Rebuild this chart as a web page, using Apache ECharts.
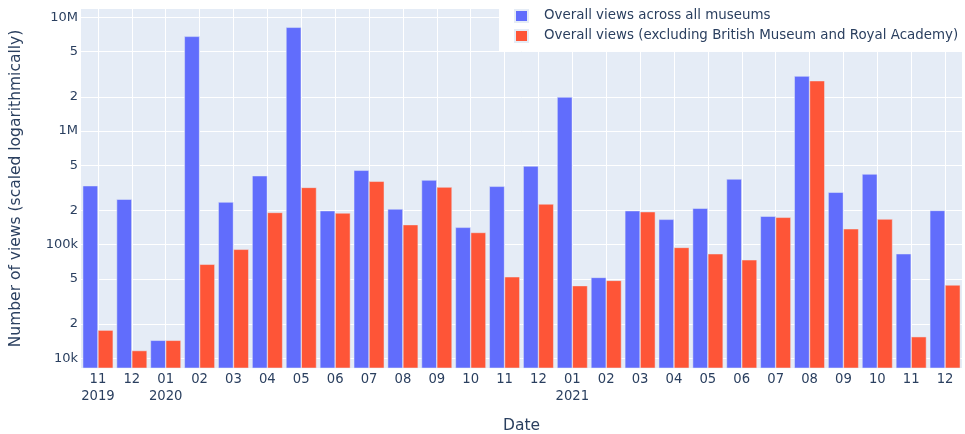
<!DOCTYPE html>
<html>
<head>
<meta charset="utf-8">
<script src="https://cdn.jsdelivr.net/npm/echarts@6/dist/echarts.min.js"></script>
<style>
  html, body { margin: 0; padding: 0; background: #ffffff; }
  #chart { width: 965px; height: 434px; }
</style>
</head>
<body>
<div id="chart"></div>
<script>
// Monthly museum page views, Nov 2019 - Dec 2021
const months = [
  '2019-11', '2019-12', '2020-01', '2020-02', '2020-03', '2020-04', '2020-05',
  '2020-06', '2020-07', '2020-08', '2020-09', '2020-10', '2020-11', '2020-12',
  '2021-01', '2021-02', '2021-03', '2021-04', '2021-05', '2021-06', '2021-07',
  '2021-08', '2021-09', '2021-10', '2021-11', '2021-12'
];

const allMuseums = [
  330000, 251000, 14400, 6800000, 237000, 404000, 8170000,
  199000, 451000, 206000, 370000, 142000, 326000, 492000,
  1990000, 51500, 199000, 167000, 209000, 378000, 178000,
  3040000, 289000, 418000, 83200, 200000
];

const excludingBmRa = [
  17700, 11700, 14400, 67200, 91000, 192000, 319000,
  190000, 361000, 150000, 321000, 128000, 52200, 228000,
  43600, 48500, 195000, 94600, 83200, 73600, 174000,
  2770000, 138000, 168000, 15500, 44200
];

// Log-axis ticks at 1-2-5 steps, with their labels
const yTickValues = [1e4, 2e4, 5e4, 1e5, 2e5, 5e5, 1e6, 2e6, 5e6, 1e7];
const yTickLabels = ['10k', '2', '5', '100k', '2', '5', '1M', '2', '5', '10M'];

const seriesNames = [
  'Overall views across all museums',
  'Overall views (excluding British Museum and Royal Academy)'
];

const FONT = '"DejaVu Sans", Verdana, sans-serif';
const INK = '#2a3f5f';

function monthLabel(value, index) {
  const [year, month] = value.split('-');
  return (index === 0 || month === '01') ? month + '\n' + year : month;
}

function yLabel(value) {
  for (let i = 0; i < yTickValues.length; i++) {
    if (Math.abs(Math.log10(value) - Math.log10(yTickValues[i])) < 1e-6) return yTickLabels[i];
  }
  return '';
}

const chart = echarts.init(document.getElementById('chart'), null, { renderer: 'canvas' });

chart.setOption({
  animation: false,
  backgroundColor: '#ffffff',
  textStyle: { fontFamily: FONT, color: INK },
  grid: {
    left: 81, right: 3, top: 9, bottom: 66,
    containLabel: false,
    outerBoundsMode: 'none',
    show: true, backgroundColor: '#E5ECF6', borderWidth: 0
  },
  legend: {
    orient: 'vertical',
    left: 499, top: 0,
    padding: [9, 8, 8, 15],
    backgroundColor: '#ffffff',
    itemWidth: 13, itemHeight: 12, itemGap: 6,
    icon: 'rect',
    textStyle: { fontFamily: FONT, fontSize: 13.4, color: INK, lineHeight: 14, padding: [0, 0, 0, 11] },
    data: seriesNames
  },
  xAxis: {
    type: 'category',
    data: months,
    name: 'Date',
    nameLocation: 'middle',
    nameGap: 50,
    nameTextStyle: { fontFamily: FONT, fontSize: 15.5, color: INK },
    axisLine: { show: false },
    axisTick: { show: false },
    splitLine: { show: true, alignWithLabel: true, lineStyle: { color: '#ffffff', width: 1 } },
    axisLabel: {
      fontFamily: FONT, fontSize: 13.2, color: INK, lineHeight: 17, margin: 3,
      interval: 0, formatter: monthLabel
    }
  },
  yAxis: {
    type: 'log',
    logBase: 10,
    min: 8220,
    max: 11840000,
    name: 'Number of views (scaled logarithmically)',
    nameLocation: 'middle',
    nameGap: 57,
    nameTextStyle: { fontFamily: FONT, fontSize: 15.5, color: INK },
    axisLine: { show: false },
    axisTick: { show: false, customValues: yTickValues },
    splitLine: { show: true, lineStyle: { color: '#ffffff', width: 1 } },
    axisLabel: {
      fontFamily: FONT, fontSize: 13, color: INK, margin: 3,
      customValues: yTickValues,
      formatter: yLabel
    }
  },
  series: [
    {
      name: seriesNames[0],
      type: 'bar',
      data: allMuseums,
      barGap: '0%',
      barCategoryGap: '10%',
      itemStyle: { color: '#616DFC', borderColor: '#E5ECF6', borderWidth: 0.5 }
    },
    {
      name: seriesNames[1],
      type: 'bar',
      data: excludingBmRa,
      barGap: '0%',
      barCategoryGap: '10%',
      itemStyle: { color: '#FE5537', borderColor: '#E5ECF6', borderWidth: 0.5 }
    }
  ]
});
</script>
</body>
</html>
